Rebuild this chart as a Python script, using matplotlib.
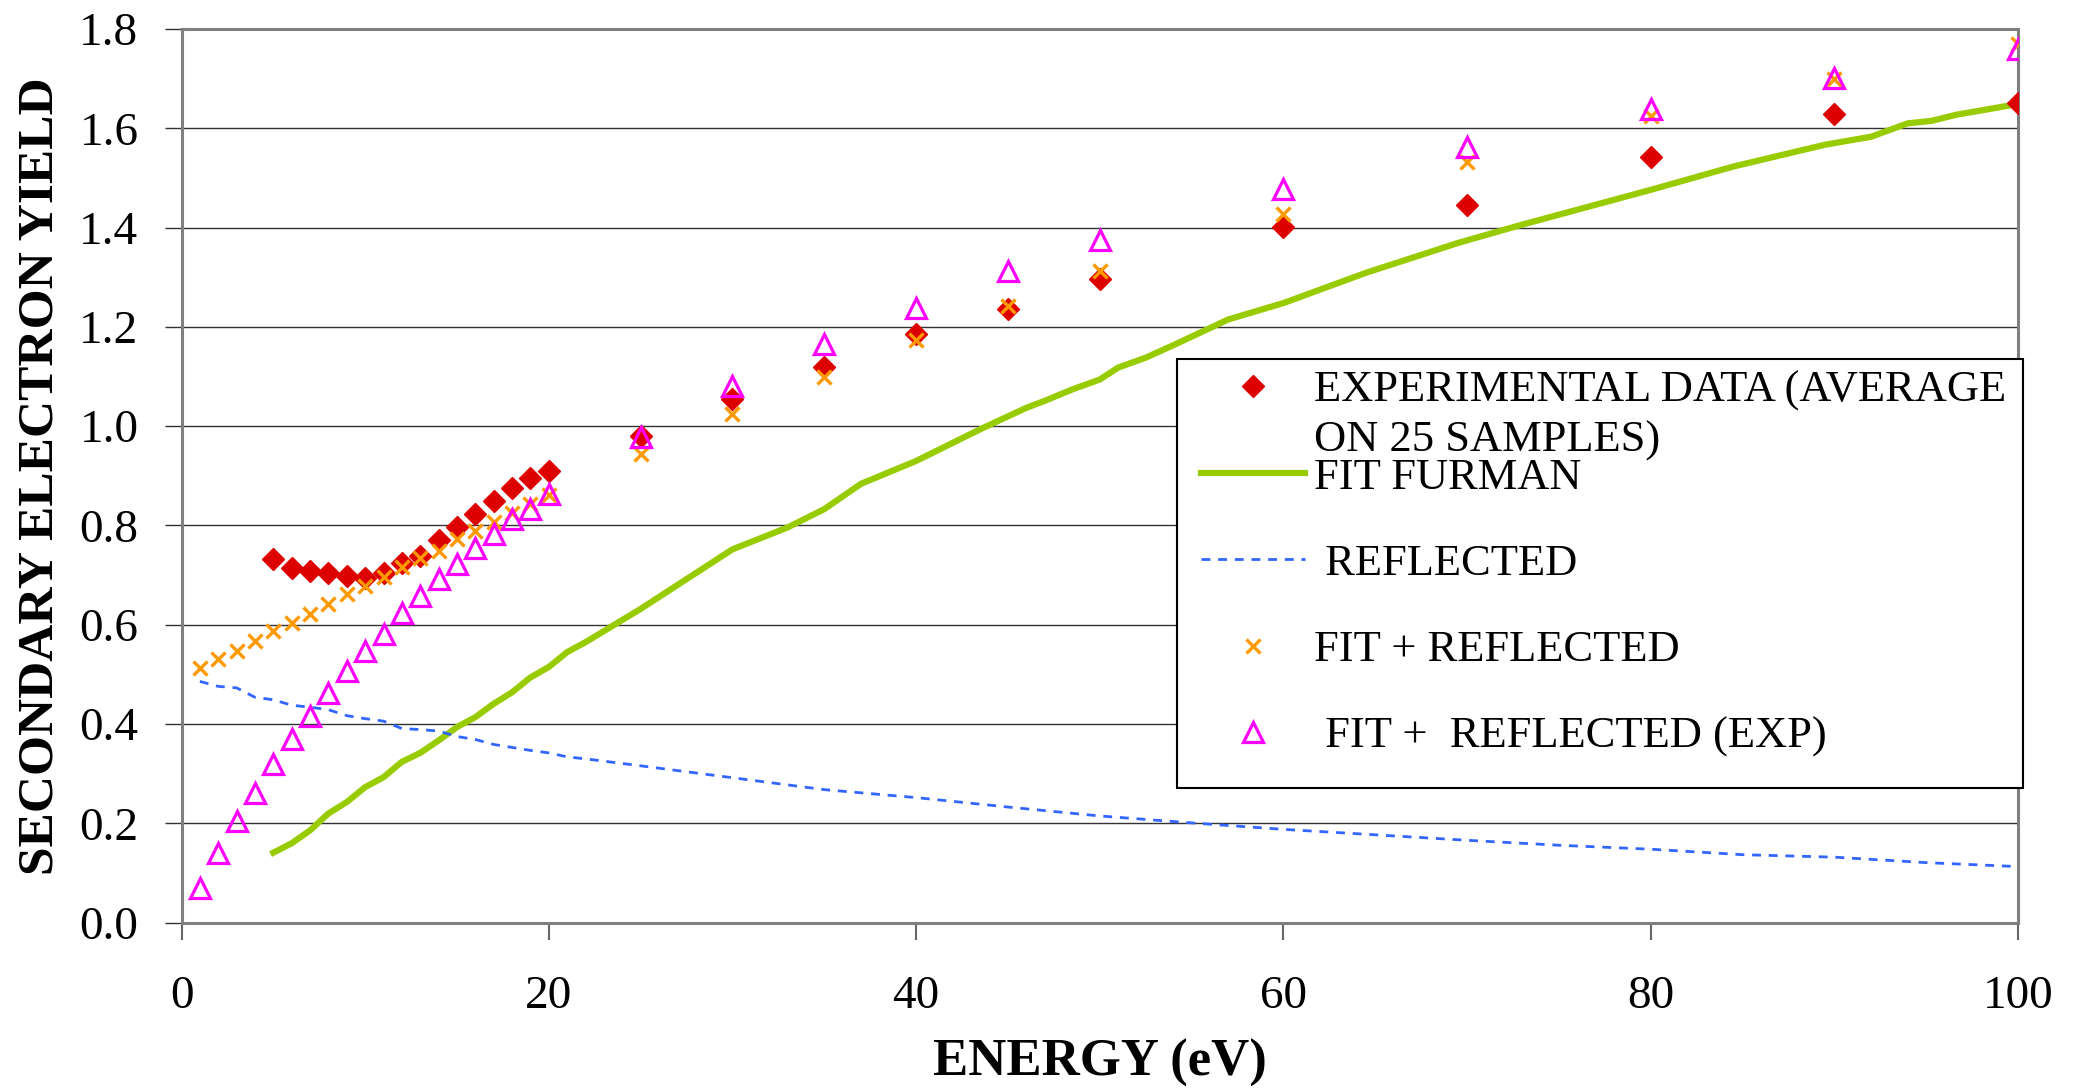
import matplotlib.pyplot as plt
from matplotlib.patches import Rectangle

plt.rcParams['font.family'] = ['Liberation Serif', 'DejaVu Serif']

# experimental data (average on 25 samples)
e_exp = [5, 6, 7, 8, 9, 10, 11, 12, 13, 14, 15, 16, 17, 18, 19, 20,
         25, 30, 35, 40, 45, 50, 60, 70, 80, 90, 100]
y_exp = [0.732, 0.714, 0.708, 0.705, 0.698, 0.695, 0.705, 0.724, 0.738, 0.771,
         0.797, 0.824, 0.850, 0.876, 0.895, 0.910,
         0.980, 1.054, 1.119, 1.186, 1.236, 1.296, 1.402, 1.445, 1.543, 1.628, 1.650]

# Furman fit
e_fit = [5, 6, 7, 8, 9, 10, 11, 12, 13, 14, 15, 16, 17, 18, 19, 20, 21, 22,
         25, 30, 33, 35, 37, 40, 43.5, 46, 47, 48.5, 50, 51, 52.5, 54, 57, 60,
         64.5, 69.5, 73, 80, 84.5, 89.5, 92, 94, 95.3, 96.6, 100]
y_fit = [0.141, 0.160, 0.186, 0.220, 0.243, 0.273, 0.293, 0.324, 0.342, 0.367,
         0.394, 0.414, 0.441, 0.464, 0.494, 0.515, 0.545, 0.565,
         0.632, 0.752, 0.796, 0.833, 0.884, 0.930, 0.994, 1.037, 1.051, 1.074,
         1.094, 1.118, 1.138, 1.163, 1.215, 1.248, 1.309, 1.369, 1.406, 1.476,
         1.523, 1.567, 1.583, 1.610, 1.615, 1.627, 1.649]

# reflected electrons
e_refl = [1, 2, 3, 4, 5, 6, 7, 8, 9, 10, 11, 12, 13, 14, 15, 16, 17, 18, 19, 20,
          21, 22, 25, 30, 35, 40, 45, 50, 55, 60, 65, 70, 75, 80, 85, 90, 95, 100]
y_refl = [0.486, 0.476, 0.473, 0.454, 0.449, 0.438, 0.434, 0.429, 0.417, 0.411,
          0.406, 0.391, 0.389, 0.386, 0.375, 0.369, 0.359, 0.353, 0.347, 0.342,
          0.334, 0.330, 0.316, 0.292, 0.268, 0.252, 0.233, 0.215, 0.201, 0.188,
          0.177, 0.166, 0.156, 0.148, 0.137, 0.132, 0.121, 0.113]

# fit + reflected, fit + reflected (exp)
e_sum = [1, 2, 3, 4, 5, 6, 7, 8, 9, 10, 11, 12, 13, 14, 15, 16, 17, 18, 19, 20,
         25, 30, 35, 40, 45, 50, 60, 70, 80, 90, 100]
y_fit_refl = [0.513, 0.531, 0.548, 0.567, 0.588, 0.603, 0.622, 0.641, 0.663, 0.679,
              0.697, 0.717, 0.734, 0.749, 0.772, 0.789, 0.808, 0.826, 0.843, 0.862,
              0.944, 1.024, 1.099, 1.173, 1.242, 1.312, 1.427, 1.532, 1.624, 1.699, 1.769]
y_fit_refl_exp = [0.070, 0.140, 0.204, 0.261, 0.320, 0.370, 0.416, 0.462, 0.507, 0.548,
                  0.582, 0.623, 0.658, 0.692, 0.722, 0.754, 0.783, 0.813, 0.834, 0.864,
                  0.979, 1.081, 1.166, 1.238, 1.312, 1.376, 1.478, 1.563, 1.638, 1.702, 1.759]

labels = ["EXPERIMENTAL DATA (AVERAGE", "FIT FURMAN", " REFLECTED",
          "FIT + REFLECTED", " FIT +  REFLECTED (EXP)"]

fig = plt.figure(figsize=(20.87, 10.89), dpi=100)
ax = fig.add_axes([0.08697, 0.15271, 0.87997, 0.82066])

ax.plot(e_exp, y_exp, ls='none', marker='D', ms=11, color='#DD0000',
        mec='#DD0000', zorder=3, label=labels[0])
ax.plot(e_fit, y_fit, color='#99CC00', lw=4.5, zorder=2, label=labels[1])
ax.plot(e_refl, y_refl, color='#3366FF', lw=2, ls=(0, (3.2, 2.8)), zorder=2,
        label=labels[2])
ax.plot(e_sum, y_fit_refl, ls='none', marker='x', ms=10, mew=2.4,
        color='#FF9900', zorder=4, label=labels[3])
ax.plot(e_sum, y_fit_refl_exp, ls='none', marker='^', ms=14, mew=2.3,
        mfc='none', mec='#FF00FF', zorder=5, label=labels[4])

ax.set_xlim(0, 100)
ax.set_ylim(0, 1.8)
ax.set_xticks([0, 20, 40, 60, 80, 100])
ax.set_yticks([0.0, 0.2, 0.4, 0.6, 0.8, 1.0, 1.2, 1.4, 1.6, 1.8])
ax.set_yticklabels([f"{v:.1f}" for v in ax.get_yticks()])
ax.yaxis.grid(True, color='#333333', lw=1.0)
ax.set_axisbelow(True)
for s in ax.spines.values():
    s.set_color('#808080')
    s.set_linewidth(2.2)
ax.tick_params(axis='y', direction='out', length=12, width=1, color='#333333',
               labelsize=34, pad=19)
ax.tick_params(axis='x', direction='out', length=12, width=1.5, color='#666666',
               labelsize=34, pad=26)

ax.set_xlabel("ENERGY (eV)", fontsize=38, fontweight='bold')
ax.set_ylabel("SECONDARY ELECTRON YIELD", fontsize=37, fontweight='bold')
ax.xaxis.set_label_coords(0.5, -0.130)
ax.yaxis.set_label_coords(-0.0645, 0.5)

# legend box (white, black edge), entries placed on top of it
box = Rectangle((0.564, 0.2764), 0.4053, 0.3939, transform=fig.transFigure,
                facecolor='white', edgecolor='black', lw=1.5, zorder=6,
                clip_on=False)
ax.add_patch(box)

leg = ax.legend(loc='upper left', bbox_to_anchor=(0.564, 0.2874, 0.4053, 0.3939),
                bbox_transform=fig.transFigure, mode='expand', borderaxespad=0,
                fontsize=32, numpoints=1, handlelength=2.34, handletextpad=0.2,
                borderpad=0.53, labelspacing=1.04, frameon=False)
leg.set_zorder(7)
ax.annotate("ON 25 SAMPLES)", xy=(0, 0), xycoords=leg.get_texts()[0],
            xytext=(0, -29.1), textcoords='offset points', ha='left',
            va='baseline', fontsize=32, zorder=8)

fig.savefig('out.png', dpi=100)
